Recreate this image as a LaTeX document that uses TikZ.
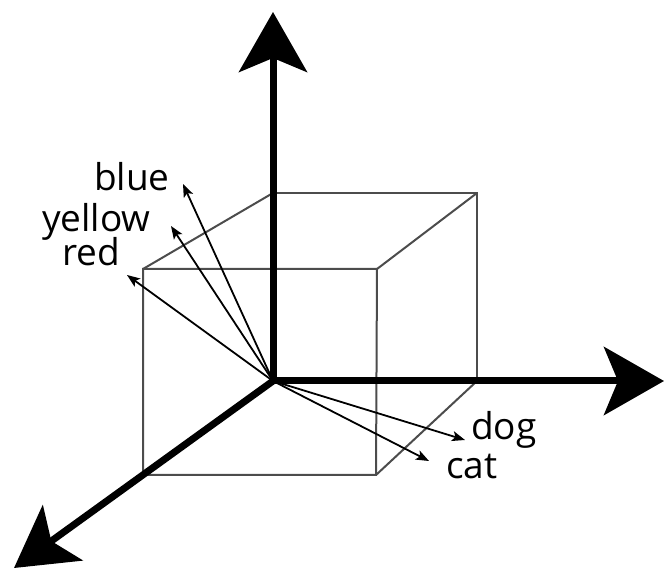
\documentclass[tikz,border=0pt]{standalone}
\usepackage{fontspec}
\setmainfont{Open Sans}
\usetikzlibrary{arrows.meta}
\begin{document}
\begin{tikzpicture}[x=1pt,y=-1pt,
  axis/.style={line width=7pt,-{Stealth[length=60pt,width=68pt,inset=14pt]}},
  edge/.style={line width=2pt,draw=black!70},
  vec/.style={line width=1.8pt,-{Stealth[length=13pt,width=10pt,inset=3pt]}},
  lbl/.style={inner sep=0pt,anchor=base west,font=\fontsize{37}{37}\selectfont}]
\useasboundingbox (0,0) rectangle (665,569);
% points
\coordinate (O) at (273,381);
\coordinate (Zt) at (273,12);
\coordinate (Xt) at (664,381);
\coordinate (Yt) at (14,568);
\coordinate (BTL) at (273,193);
\coordinate (BTR) at (477,193);
\coordinate (BBR) at (477,381);
\coordinate (FTL) at (143,269);
\coordinate (FTR) at (377,269);
\coordinate (FBL) at (143,475);
\coordinate (FBR) at (376,475);
% cube
\draw[edge] (FTL) -- (FTR) -- (FBR) -- (FBL) -- cycle;
\draw[edge] (BTL) -- (BTR) -- (BBR);
\draw[edge] (FTL) -- (BTL);
\draw[edge] (FTR) -- (BTR);
\draw[edge] (FBR) -- (BBR);
% vectors
\coordinate (vb) at (183,184);
\coordinate (vy) at (171,226);
\coordinate (vr) at (127,275);
\coordinate (vd) at (465,440);
\coordinate (vc) at (429,461);
\draw[vec] (O) -- (vb);
\draw[vec] (O) -- (vy);
\draw[vec] (O) -- (vr);
\draw[vec] (O) -- (vd);
\draw[vec] (O) -- (vc);
% axes
\draw[axis] (O) -- (Zt);
\draw[axis] (O) -- (Xt);
\draw[axis] (O) -- (Yt);
% labels
\node[lbl] (lb) at (94,191) {blue};
\node[lbl] (ly) at (42,232) {yellow};
\node[lbl] (lr) at (62,266) {red};
\node[lbl] (ld) at (471,440) {dog};
\node[lbl] (lc) at (446,479) {cat};
\end{tikzpicture}
\end{document}
